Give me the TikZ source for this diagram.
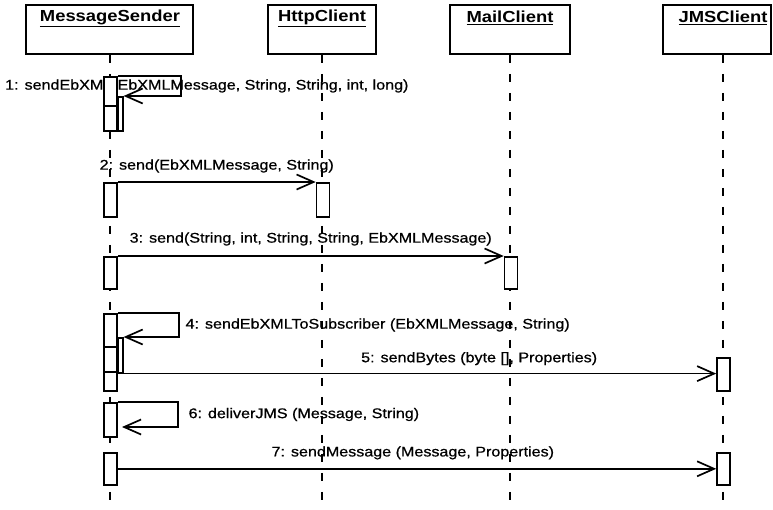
\documentclass[tikz,border=0pt]{standalone}
\usepackage{fontspec}
\setmainfont{Liberation Sans}[FakeStretch=1.15]
\newfontfamily\msgfont{Liberation Sans}[FakeStretch=1.15, FakeBold=0.7]
\usetikzlibrary{arrows.meta}

\begin{document}
\begin{tikzpicture}[x=1pt, y=-1pt,
  every node/.style={font=\msgfont\fontsize{14}{16}\selectfont},
  objbox/.style={draw, line width=1.8pt, minimum height=49pt, inner sep=0pt},
  objname/.style={font=\fontsize{16}{18}\selectfont\bfseries, inner sep=0pt},
  lifeline/.style={line width=1.6pt, dash pattern=on 8pt off 11pt},
  actbar/.style={draw, fill=white, line width=1.6pt, minimum width=13pt, inner sep=0pt, anchor=north},
  thinbar/.style={actbar, minimum width=5pt, anchor=north west},
  msg/.style={-{Straight Barb[length=17pt, width=15pt, line width=1.7pt]}, line width=1.6pt},
  msglabel/.style={inner sep=1pt}
]
\fill[white] (0,0) rectangle (773,509);
\useasboundingbox (0,0) rectangle (773,509);

% objects
\node[objbox, minimum width=167pt] (sender) at (109.5,29.5) {};
\node[objname] (senderName) at (110,18) {\underline{MessageSender}};
\node[objbox, minimum width=108pt] (http) at (322,29.5) {};
\node[objname] (httpName) at (322,18) {\underline{HttpClient}};
\node[objbox, minimum width=120pt] (mail) at (510,29.5) {};
\node[objname] (mailName) at (510,18) {\underline{MailClient}};
\node[objbox, minimum width=108pt] (jms) at (717,29.5) {};
\node[objname] (jmsName) at (723,18) {\underline{JMSClient}};

% lifelines
\foreach \o in {sender, http, mail, jms}
  \draw[lifeline] (\o Name |- \o.south) -- ++(0,455);

% 1: self call
\node[msglabel, anchor=west] (l1) at (4,86) {1: sendEbXML(EbXMLMessage, String, String, int, long)};
\node[actbar, minimum height=54pt] (s1) at (110.5,76) {};
\node[thinbar, minimum height=34pt] (s1i) at (117,96) {};
\draw[line width=1.6pt] (s1.west |- 0,106) -- (s1.east |- 0,106);
\draw[msg] (s1.north east) -- ++(63,0) |- (s1i.north east);

% 2
\node[actbar, minimum height=34pt] (s2) at (110.5,182) {};
\node[actbar, minimum height=34pt] (h2) at (323,182) {};
\draw[msg] (s2.north east) -- node[msglabel, yshift=16pt] {2: send(EbXMLMessage, String)} (h2.north west);

% 3
\node[actbar, minimum height=32pt] (s3) at (110.5,256) {};
\node[actbar, minimum height=32pt] (m3) at (511,256) {};
\draw[msg] (s3.north east) -- node[msglabel, yshift=17pt] {3: send(String, int, String, String, EbXMLMessage)} (m3.north west);

% 4 and 5
\node[actbar, minimum height=77pt] (s4) at (110.5,313) {};
\node[thinbar, minimum height=35pt] (s4i) at (117,337) {};
\draw[line width=1.6pt] (s4.west |- 0,347) -- (s4.east |- 0,347);
\draw[line width=1.6pt] (s4.west |- 0,372) -- (s4.east |- 0,372);
\draw[msg] (s4.north east) -- ++(61,0) |- node[msglabel, pos=0.25, right=5pt] {4: sendEbXMLToSubscriber (EbXMLMessage, String)} (s4i.north east);
\node[actbar, minimum height=33pt] (j5) at (723.5,357) {};
\draw[msg] (s4i.south east) -- node[msglabel, pos=0.6, yshift=15pt] {5: sendBytes (byte [], Properties)} (s4i.south east -| j5.west);

% 6
\node[actbar, minimum height=34pt] (s6) at (110.5,402) {};
\coordinate (r6) at (122,427);
\draw[msg] (s6.north east) -- ++(60,0) |- node[msglabel, pos=0.25, right=9pt] {6: deliverJMS (Message, String)} (r6);

% 7
\node[actbar, minimum height=32pt] (s7) at (110.5,452) {};
\node[actbar, minimum height=32pt] (j7) at (723.5,452) {};
\draw[msg] (s7.east) -- node[msglabel, pos=0.493, yshift=16pt] {7: sendMessage (Message, Properties)} (j7.west);
\end{tikzpicture}
\end{document}
